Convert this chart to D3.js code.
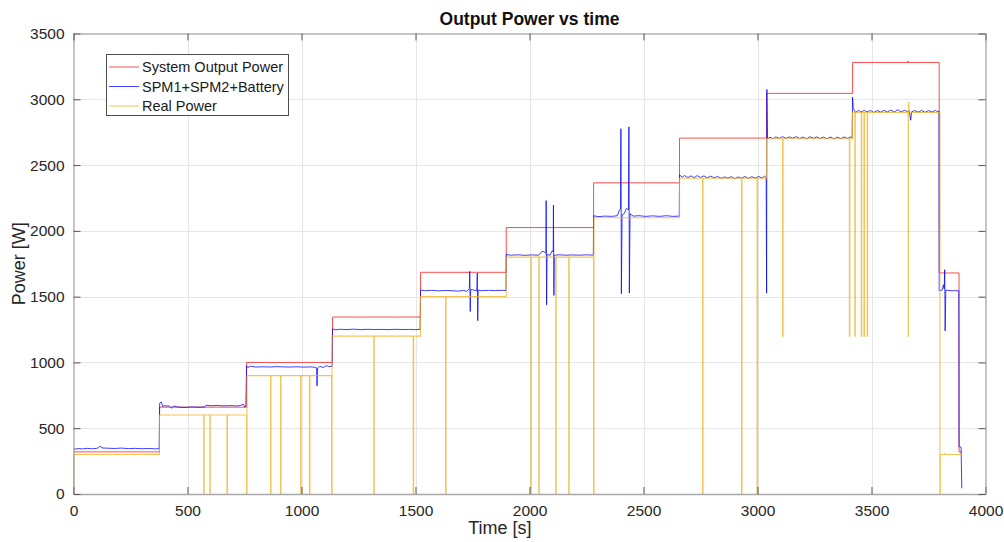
<!DOCTYPE html>
<html>
<head>
<meta charset="utf-8">
<script src="https://cdn.jsdelivr.net/npm/d3@7"></script>
<style>
  html, body { margin: 0; padding: 0; background: #fff; }
  svg { display: block; font-family: "Liberation Sans", Arial, Helvetica, sans-serif; }
</style>
</head>
<body>
<svg id="chart" width="1004" height="542"></svg>
<script>
// Axis ticks
const xTicks = [0, 500, 1000, 1500, 2000, 2500, 3000, 3500, 4000];
const yTicks = [0, 500, 1000, 1500, 2000, 2500, 3000, 3500];

// Series names
const seriesNames = ["System Output Power", "SPM1+SPM2+Battery", "Real Power"];

// System output power setpoint [time s, power W] (held until next sample)
const systemOutput = [
  [0, 320], [377, 660], [759, 1000], [1136, 1345], [1522, 1685], [1898, 2025],
  [2281, 2365], [2658, 2705], [3040, 3045], [3417, 3280], [3659, 3290], [3661, 3280],
  [3797, 1680], [3884, 320], [3896, 320]
];

// SPM1 + SPM2 + battery measured power [time s, power W]
const spmBattery = [
  [0, 340], [20, 345], [40, 343], [60, 347], [80, 344], [100, 346], [110, 352], [117, 365],
  [125, 350], [150, 348], [180, 346], [210, 349], [240, 345], [270, 347], [300, 344],
  [330, 346], [360, 343], [376, 345],
  [378, 690], [385, 700], [392, 665], [400, 672], [410, 668], [420, 670], [430, 652],
  [440, 668], [460, 660], [490, 658], [520, 662], [550, 659], [575, 661], [581, 675],
  [600, 671], [630, 673], [660, 670], [690, 672], [720, 669], [735, 675], [745, 682],
  [752, 660], [756, 668],
  [759, 975], [765, 960], [775, 972], [800, 965], [830, 967], [860, 965], [890, 968],
  [920, 966], [950, 965], [980, 967], [1010, 964], [1040, 966], [1060, 963], [1066, 960],
  [1068, 822], [1071, 958], [1080, 970], [1095, 962], [1110, 975], [1120, 968], [1134, 970],
  [1136, 1255], [1150, 1248], [1170, 1252], [1200, 1250], [1230, 1253], [1260, 1249],
  [1290, 1252], [1320, 1250], [1350, 1251], [1380, 1249], [1410, 1252], [1440, 1250],
  [1470, 1251], [1500, 1249], [1520, 1252],
  [1522, 1550], [1540, 1545], [1570, 1548], [1600, 1544], [1630, 1547], [1660, 1545],
  [1690, 1542], [1710, 1548], [1725, 1540], [1736, 1560], [1738, 1692], [1740, 1387],
  [1742, 1555], [1755, 1550], [1769, 1545], [1771, 1680], [1773, 1317], [1775, 1550],
  [1790, 1545], [1820, 1548], [1850, 1546], [1880, 1548], [1897, 1546],
  [1898, 1820], [1920, 1815], [1950, 1818], [1980, 1814], [2010, 1817], [2040, 1815],
  [2055, 1845], [2065, 1840], [2072, 1830], [2073, 2230], [2075, 1438], [2077, 1820],
  [2090, 1815], [2100, 1850], [2104, 1840], [2105, 2196], [2107, 1509], [2109, 1815],
  [2130, 1818], [2160, 1815], [2190, 1817], [2220, 1815], [2250, 1818], [2280, 1815],
  [2281, 2115], [2300, 2108], [2330, 2112], [2360, 2110], [2385, 2115], [2395, 2160],
  [2399, 2165], [2401, 2776], [2403, 1522], [2406, 2120], [2415, 2130], [2425, 2170],
  [2434, 2160], [2436, 2791], [2438, 1527], [2441, 2130], [2455, 2112], [2480, 2115],
  [2510, 2110], [2540, 2114], [2570, 2110], [2600, 2115], [2630, 2110], [2657, 2112],
  [2658, 2425], [2670, 2408], [2680, 2420], [2695, 2405], [2708, 2418], [2722, 2404],
  [2735, 2420], [2750, 2406], [2765, 2418], [2780, 2403], [2795, 2416], [2810, 2402],
  [2825, 2414], [2840, 2398], [2855, 2410], [2870, 2400], [2885, 2412], [2900, 2397],
  [2915, 2410], [2930, 2400], [2945, 2413], [2960, 2398], [2975, 2412], [2990, 2400],
  [3005, 2414], [3020, 2401], [3030, 2416], [3038, 2405],
  [3040, 1527], [3041, 3075], [3044, 2700], [3055, 2712], [3068, 2700], [3080, 2714],
  [3095, 2702], [3110, 2716], [3125, 2703], [3140, 2714], [3155, 2704], [3170, 2716],
  [3185, 2702], [3200, 2713], [3215, 2700], [3230, 2715], [3245, 2703], [3260, 2714],
  [3275, 2702], [3290, 2712], [3305, 2700], [3320, 2713], [3335, 2699], [3350, 2712],
  [3365, 2701], [3380, 2713], [3395, 2703], [3408, 2714], [3415, 2708],
  [3417, 3016], [3420, 2930], [3430, 2900], [3442, 2915], [3455, 2903], [3468, 2916],
  [3480, 2904], [3495, 2915], [3510, 2900], [3525, 2914], [3540, 2902], [3555, 2916],
  [3570, 2904], [3585, 2918], [3600, 2903], [3615, 2920], [3630, 2905], [3645, 2916],
  [3658, 2906], [3665, 2915], [3672, 2841], [3676, 2905], [3690, 2914], [3705, 2902],
  [3720, 2915], [3735, 2901], [3750, 2914], [3765, 2903], [3780, 2915], [3790, 2906],
  [3796, 2910],
  [3797, 1545], [3810, 1550], [3815, 1590], [3819, 1560], [3821, 1705], [3823, 1240],
  [3826, 1550], [3850, 1545], [3883, 1545], [3884, 360], [3893, 355], [3896, 43]
];

// Real power delivered [time s, power W] (held until next sample)
const realPower = [
  [0, 0], [1, 300], [377, 600], [571, 0], [573, 600], [598, 0], [600, 600], [673, 0],
  [675, 600], [759, 0], [761, 900], [864, 0], [866, 900], [908, 0], [910, 900], [996, 0],
  [998, 900], [1035, 0], [1037, 900], [1132, 0], [1134, 1200], [1317, 0], [1319, 1200],
  [1490, 0], [1492, 1200], [1522, 1500], [1632, 0], [1634, 1500], [1898, 1800], [2006, 0],
  [2008, 1800], [2041, 0], [2043, 1800], [2115, 0], [2117, 1800], [2172, 0], [2174, 1800],
  [2281, 0], [2283, 2100], [2658, 2400], [2759, 0], [2761, 2400], [2930, 0], [2932, 2400],
  [2998, 0], [3000, 2400], [3040, 2700], [3110, 1200], [3112, 2700], [3403, 1200],
  [3405, 2700], [3417, 2900], [3427, 1200], [3429, 2900], [3455, 1200], [3457, 2900],
  [3467, 1200], [3469, 2900], [3481, 1200], [3483, 2900], [3661, 1200], [3662, 2975],
  [3664, 2900], [3800, 0], [3802, 300], [3820, 300], [3821, 310], [3822, 300], [3896, 300]
];

const svg = d3.select("#chart");
const plotLeft = 73.5, plotRight = 985.5, plotTop = 33.5, plotBottom = 494;

const x = d3.scaleLinear().domain([0, 4000]).range([plotLeft, plotRight]);
const y = d3.scaleLinear().domain([0, 3500]).range([plotBottom, plotTop]);

// Grid
const grid = svg.append("g");
grid.selectAll("line.gx").data(xTicks.slice(1, -1)).join("line")
  .attr("x1", d => Math.round(x(d)) + 0.5).attr("x2", d => Math.round(x(d)) + 0.5)
  .attr("y1", plotTop).attr("y2", plotBottom)
  .attr("stroke", "#e6e6e6").attr("stroke-width", 1);
grid.selectAll("line.gy").data(yTicks.slice(1, -1)).join("line")
  .attr("y1", d => Math.round(y(d)) + 0.5).attr("y2", d => Math.round(y(d)) + 0.5)
  .attr("x1", plotLeft).attr("x2", plotRight)
  .attr("stroke", "#e6e6e6").attr("stroke-width", 1);

// Series lines
const plot = svg.append("g");
const stepLine = d3.line().x(d => x(d[0])).y(d => y(d[1])).curve(d3.curveStepAfter);
const linLine = d3.line().x(d => x(d[0])).y(d => y(d[1]));

plot.append("path").datum(systemOutput).attr("d", stepLine)
  .attr("fill", "none").attr("stroke", "#ff2020").attr("stroke-opacity", 0.8).attr("stroke-width", 1);
plot.append("path").datum(spmBattery).attr("d", linLine)
  .attr("fill", "none").attr("stroke", "#0000ff").attr("stroke-opacity", 0.75).attr("stroke-width", 1);
plot.append("path").datum(realPower).attr("d", stepLine)
  .attr("fill", "none").attr("stroke", "#edb120").attr("stroke-opacity", 0.75).attr("stroke-width", 1.1);

// Axes (box with inward ticks on all sides)
const tickLen = 7;
const fmt = d3.format("d");
const axisColor = "#8a8a8a";

const gx = svg.append("g").attr("transform", `translate(0,${plotBottom})`)
  .call(d3.axisBottom(x).tickValues(xTicks).tickFormat(fmt).tickSizeInner(-tickLen).tickSizeOuter(0).tickPadding(11));
const gy = svg.append("g").attr("transform", `translate(${plotLeft},0)`)
  .call(d3.axisLeft(y).tickValues(yTicks).tickFormat(fmt).tickSizeInner(-tickLen).tickSizeOuter(0).tickPadding(9));
const gt = svg.append("g").attr("transform", `translate(0,${plotTop})`)
  .call(d3.axisTop(x).tickValues(xTicks).tickFormat("").tickSizeInner(-tickLen).tickSizeOuter(0));
const gr = svg.append("g").attr("transform", `translate(${plotRight},0)`)
  .call(d3.axisRight(y).tickValues(yTicks).tickFormat("").tickSizeInner(-tickLen).tickSizeOuter(0));

[gx, gy, gt, gr].forEach(g => {
  g.select(".domain").attr("stroke", axisColor).attr("stroke-width", 1);
  g.selectAll(".tick line").attr("stroke", "#555");
  g.selectAll(".tick text").attr("fill", "#262626").attr("font-size", "15.5px")
    .attr("font-family", "'Liberation Sans', Arial, sans-serif");
});
gx.select(".domain").attr("stroke", "#a8a8a8").attr("stroke-width", 1.6);

// Titles
svg.append("text").attr("x", (plotLeft + plotRight) / 2).attr("y", 25)
  .attr("text-anchor", "middle").attr("font-size", "17.5px").attr("font-weight", "bold")
  .attr("fill", "#111").text("Output Power vs time");
svg.append("text").attr("x", x(1870)).attr("y", 534)
  .attr("text-anchor", "middle").attr("font-size", "18px").attr("fill", "#262626").text("Time [s]");
svg.append("text").attr("transform", `translate(25,${(plotTop + plotBottom) / 2}) rotate(-90)`)
  .attr("text-anchor", "middle").attr("font-size", "18px").attr("fill", "#262626").text("Power [W]");

// Legend
const legendColors = ["#ff2020", "#0000ff", "#edb120"];
const legendOpacity = [0.8, 0.75, 0.75];
const lg = svg.append("g");
lg.append("rect").attr("x", 106.5).attr("y", 54.5).attr("width", 182).attr("height", 61)
  .attr("fill", "#fff").attr("stroke", "#4d4d4d").attr("stroke-width", 1);
seriesNames.forEach((name, i) => {
  const yy = 67 + i * 19.5;
  lg.append("line").attr("x1", 109).attr("x2", 139).attr("y1", yy).attr("y2", yy)
    .attr("stroke", legendColors[i]).attr("stroke-opacity", legendOpacity[i]).attr("stroke-width", 1);
  lg.append("text").attr("x", 142).attr("y", yy).attr("dy", "0.36em")
    .attr("font-size", "14.5px").attr("fill", "#1a1a1a").text(name);
});
</script>
</body>
</html>
